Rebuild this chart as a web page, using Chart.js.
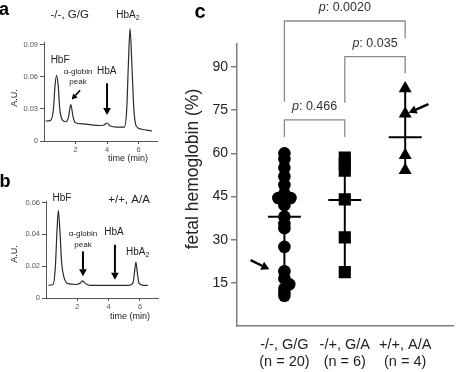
<!DOCTYPE html>
<html>
<head>
<meta charset="utf-8">
<script src="https://cdn.jsdelivr.net/npm/chart.js@4.4.1/dist/chart.umd.min.js"></script>
<style>
  html, body { margin: 0; padding: 0; background: #fff; }
  #fig { position: relative; width: 472px; height: 372px; overflow: hidden; }
  canvas { position: absolute; }
</style>
</head>
<body>
<div id="fig">
  <canvas id="panelA" width="165" height="170" style="left:0;top:0"></canvas>
  <canvas id="panelB" width="165" height="160" style="left:0;top:170px"></canvas>
  <canvas id="panelC" width="312" height="372" style="left:160px;top:0"></canvas>
</div>
<script>
const FONT = '"Liberation Sans", Arial, sans-serif';

// panel a: chromatogram, -/-, G/G
const traceATime = [0.1, 0.4, 0.6, 0.7, 0.8, 0.9, 1.0, 1.15, 1.4, 1.55, 1.7, 1.85, 2.0, 2.5, 3.0, 3.5, 3.8, 4.0, 4.2, 4.6, 5.1, 5.25, 5.35, 5.46, 5.58, 5.7, 5.85, 6.2, 6.84];
const traceAAu = [0.0187, 0.019, 0.030, 0.052, 0.0614, 0.052, 0.030, 0.020, 0.018, 0.022, 0.034, 0.022, 0.017, 0.016, 0.015, 0.0145, 0.015, 0.0168, 0.014, 0.013, 0.013, 0.030, 0.070, 0.105, 0.070, 0.030, 0.014, 0.011, 0.0093];
const auTicksA = [0, 0.03, 0.06, 0.09];

// panel b: chromatogram, +/+, A/A
const traceBTime = [0.15, 0.45, 0.6, 0.7, 0.785, 0.9, 1.0, 1.15, 1.4, 1.9, 2.2, 2.34, 2.5, 2.8, 3.5, 4.5, 5.3, 5.55, 5.65, 5.74, 5.83, 5.93, 6.2, 6.5];
const traceBAu = [0.0080, 0.0085, 0.020, 0.042, 0.0551, 0.040, 0.022, 0.013, 0.009, 0.0085, 0.0095, 0.0108, 0.0092, 0.0080, 0.0079, 0.0079, 0.0079, 0.0095, 0.016, 0.0226, 0.016, 0.0095, 0.0080, 0.0080];
const auTicksB = [0, 0.02, 0.04, 0.06];
const timeTicks = [2, 4, 6];

// panel c: fetal hemoglobin by genotype
const groupLabels = ['-/-, G/G', '-/+, G/A', '+/+, A/A'];
const groupCounts = ['(n = 20)', '(n = 6)', '(n = 4)'];
const hbfGG = [60, 58, 55, 52, 49, 46, 44.5, 44.5, 44.5, 42, 38, 35.5, 34, 27.5, 19, 16.5, 14.5, 13, 11.5, 10.5];
const spreadGG = [0, 0, 0, 0, 0, 0, -0.1, 0, 0.1, 0, 0, 0, 0, 0, 0, 0, 0.08, 0, 0, 0];
const hbfGA = [58.5, 56.3, 54, 44, 30.8, 18.7];
const hbfAA = [82.5, 73.8, 59.3, 54.1];
const hbfMeans = [38, 43.8, 65.6];
const hbfTicks = [15, 30, 45, 60, 75, 90];
const pFrom = [1, 2, 1];
const pTo = [2, 3, 3];
const pTop = [71.6, 93.6, 106];
const pLegs = [[65.7, 65.7], [77.6, 87.8], [77.9, 100]];
const pValues = ['0.466', '0.035', '0.0020'];

function drawRich(ctx, parts, x, y, size, color, rotate, bold) {
  ctx.save();
  ctx.translate(x, y);
  if (rotate) ctx.rotate(rotate);
  ctx.fillStyle = color;
  ctx.textBaseline = 'middle';
  ctx.textAlign = 'left';
  const fonts = parts.map(p => (p.italic ? 'italic ' : '') + (bold ? 'bold ' : '') + (p.sub ? size * 0.7 : size) + 'px ' + FONT);
  let total = 0;
  const widths = parts.map((p, i) => {
    ctx.font = fonts[i];
    const w = ctx.measureText(p.t).width;
    total += w;
    return w;
  });
  let cx = -total / 2;
  parts.forEach((p, i) => {
    ctx.font = fonts[i];
    ctx.fillText(p.t, cx, p.sub ? size * 0.3 : 0);
    cx += widths[i];
  });
  ctx.restore();
}

function drawArrow(ctx, x0, y0, x1, y1, w, head) {
  const ang = Math.atan2(y1 - y0, x1 - x0);
  const bx = x1 - Math.cos(ang) * head, by = y1 - Math.sin(ang) * head;
  ctx.strokeStyle = '#000';
  ctx.fillStyle = '#000';
  ctx.lineWidth = w;
  ctx.beginPath();
  ctx.moveTo(x0, y0);
  ctx.lineTo(bx, by);
  ctx.stroke();
  ctx.beginPath();
  ctx.moveTo(x1, y1);
  ctx.lineTo(bx + Math.sin(ang) * head * 0.55, by - Math.cos(ang) * head * 0.55);
  ctx.lineTo(bx - Math.sin(ang) * head * 0.55, by + Math.cos(ang) * head * 0.55);
  ctx.closePath();
  ctx.fill();
}

function notesPlugin(cfg) {
  return {
    id: 'notes',
    afterDatasetsDraw(chart) {
      const ctx = chart.ctx;
      const sx = chart.scales.x, sy = chart.scales.y;
      const at = p => [sx.getPixelForValue(p[0]), sy.getPixelForValue(p[1])];
      ctx.save();
      (cfg.brackets || []).forEach(b => {
        const x1 = sx.getPixelForValue(b.from), x2 = sx.getPixelForValue(b.to);
        const yt = sy.getPixelForValue(b.top);
        ctx.strokeStyle = '#8a8a8a';
        ctx.lineWidth = 1.3;
        ctx.beginPath();
        ctx.moveTo(x1, sy.getPixelForValue(b.legs[0]));
        ctx.lineTo(x1, yt);
        ctx.lineTo(x2, yt);
        ctx.lineTo(x2, sy.getPixelForValue(b.legs[1]));
        ctx.stroke();
        drawRich(ctx, [{t: 'p', italic: true}, {t: ': ' + b.p}], (x1 + x2) / 2, yt - 13.5, 12.5, '#333');
      });
      (cfg.arrows || []).forEach(a => {
        const [x0, y0] = at(a.from), [x1, y1] = at(a.to);
        drawArrow(ctx, x0, y0, x1, y1, a.width, a.head);
      });
      (cfg.labels || []).forEach(l => {
        const [x, y] = l.at ? at(l.at) : l.px;
        drawRich(ctx, l.parts || [{t: l.text}], x, y, l.size, l.color || '#222', l.rotate, l.bold);
      });
      ctx.restore();
    }
  };
}

function traceChart(id, time, au, o) {
  return new Chart(document.getElementById(id), {
    type: 'line',
    data: {
      datasets: [{
        data: time.map((t, i) => ({x: t, y: au[i]})),
        borderColor: '#2b2b2b',
        borderWidth: 1.2,
        pointRadius: 0,
        cubicInterpolationMode: 'monotone',
        clip: false
      }]
    },
    options: {
      responsive: false,
      animation: false,
      events: [],
      layout: {padding: o.padding},
      plugins: {legend: {display: false}, tooltip: {enabled: false}},
      scales: {
        x: {
          type: 'linear', min: 0, max: o.xMax,
          afterFit: s => { s.height = o.xHeight; },
          afterBuildTicks: s => { s.ticks = timeTicks.map(v => ({value: v})); },
          grid: {drawOnChartArea: false, tickLength: 3, color: '#555'},
          border: {color: '#555', width: 1},
          ticks: {font: {size: 7.5, family: FONT}, color: '#555', padding: 1, maxRotation: 0}
        },
        y: {
          type: 'linear', min: 0, max: o.yMax,
          afterFit: s => { s.width = o.yWidth; },
          afterBuildTicks: s => { s.ticks = o.yTicks.map(v => ({value: v})); },
          grid: {drawOnChartArea: false, tickLength: 4, color: '#555'},
          border: {color: '#555', width: 1},
          ticks: {
            font: {size: 7.5, family: FONT}, color: '#555', padding: 2,
            callback: v => v === 0 ? '0' : v.toFixed(2)
          }
        }
      }
    },
    plugins: [notesPlugin(o.notes)]
  });
}

traceChart('panelA', traceATime, traceAAu, {
  padding: {left: 0, right: 8, top: 42, bottom: 0},
  xMax: 7.17, yMax: 0.0925, xHeight: 29, yWidth: 44, yTicks: auTicksA,
  notes: {
    arrows: [
      {from: [2.29, 0.0474], to: [1.76, 0.0387], width: 1.6, head: 5.5},
      {from: [4.0, 0.0539], to: [4.0, 0.0243], width: 2, head: 7}
    ],
    labels: [
      {text: 'a', px: [4, 10], size: 18, bold: true, color: '#000'},
      {text: '-/-, G/G', at: [1.63, 0.1178], size: 11.5},
      {text: 'HbF', at: [1.02, 0.0757], size: 10},
      {text: 'α-globin', at: [2.16, 0.0645], size: 8},
      {text: 'peak', at: [2.16, 0.0551], size: 8},
      {text: 'HbA', at: [3.98, 0.0654], size: 10},
      {parts: [{t: 'HbA'}, {t: '2', sub: true}], at: [5.33, 0.1178], size: 10},
      {text: 'A.U.', px: [15, 98], size: 9, rotate: -Math.PI / 2},
      {text: 'time (min)', px: [128, 159], size: 9}
    ]
  }
});

traceChart('panelB', traceBTime, traceBAu, {
  padding: {left: 0, right: 7, top: 31, bottom: 0},
  xMax: 7.15, yMax: 0.061, xHeight: 32, yWidth: 46, yTicks: auTicksB,
  notes: {
    arrows: [
      {from: [2.36, 0.0293], to: [2.36, 0.0136], width: 2, head: 7},
      {from: [4.4, 0.0335], to: [4.4, 0.0115], width: 2, head: 7}
    ],
    labels: [
      {text: 'b', px: [5, 12], size: 18, bold: true, color: '#000'},
      {text: '+/+, A/A', at: [5.3, 0.0618], size: 11.5},
      {text: 'HbF', at: [1.02, 0.0625], size: 10},
      {text: 'α-globin', at: [2.36, 0.0404], size: 8},
      {text: 'peak', at: [2.36, 0.0335], size: 8},
      {text: 'HbA', at: [4.34, 0.0413], size: 10},
      {parts: [{t: 'HbA'}, {t: '2', sub: true}], at: [5.85, 0.0287], size: 10},
      {text: 'A.U.', px: [15, 84], size: 9, rotate: -Math.PI / 2},
      {text: 'time (min)', px: [130, 147], size: 9}
    ]
  }
});

// panel c
const rangeLine = (x, vals) => [{x: x, y: Math.max(...vals)}, {x: x, y: Math.min(...vals)}];
const brackets = pFrom.map((f, i) => ({from: f, to: pTo[i], top: pTop[i], legs: pLegs[i], p: pValues[i]}));

new Chart(document.getElementById('panelC'), {
  type: 'scatter',
  data: {
    datasets: [
      {data: rangeLine(1, hbfGG), showLine: true, borderColor: '#000', borderWidth: 2, pointRadius: 0},
      {data: rangeLine(2, hbfGA), showLine: true, borderColor: '#000', borderWidth: 2, pointRadius: 0},
      {data: rangeLine(3, hbfAA), showLine: true, borderColor: '#000', borderWidth: 2, pointRadius: 0},
      {data: hbfGG.map((v, i) => ({x: 1 + spreadGG[i], y: v})), pointStyle: 'circle', pointRadius: 6.3, backgroundColor: '#000', borderWidth: 0},
      {data: hbfGA.map(v => ({x: 2, y: v})), pointStyle: 'rect', pointRadius: 8.6, backgroundColor: '#000', borderWidth: 0},
      {data: hbfAA.map(v => ({x: 3, y: v})), pointStyle: 'triangle', pointRadius: 7.5, backgroundColor: '#000', borderWidth: 0},
      {data: hbfMeans.map((m, i) => ({x: i + 1, y: m})), pointStyle: 'line', pointRadius: 16.5, borderColor: '#000', borderWidth: 2}
    ]
  },
  options: {
    responsive: false,
    animation: false,
    events: [],
    layout: {padding: {left: 0, right: 2, top: 44, bottom: 0}},
    plugins: {legend: {display: false}, tooltip: {enabled: false}},
    scales: {
      x: {
        type: 'linear', min: 0.215, max: 3.8,
        afterFit: s => { s.height = 46; },
        afterBuildTicks: s => { s.ticks = groupLabels.map((g, i) => ({value: i + 1})); },
        grid: {display: false, drawTicks: false},
        border: {color: '#7f7f7f', width: 1.5},
        ticks: {
          font: {size: 14.5, family: FONT, lineHeight: 1.18}, color: '#222', padding: 10,
          autoSkip: false, maxRotation: 0,
          callback: (v, i) => [groupLabels[i], groupCounts[i]]
        }
      },
      y: {
        type: 'linear', min: 0, max: 98,
        afterFit: s => { s.width = 77; },
        afterBuildTicks: s => { s.ticks = hbfTicks.map(v => ({value: v})); },
        grid: {drawOnChartArea: false, tickLength: 6, color: '#7f7f7f', lineWidth: 1.5},
        border: {color: '#7f7f7f', width: 1.5},
        ticks: {font: {size: 14, family: FONT}, color: '#222', padding: 3}
      }
    }
  },
  plugins: [notesPlugin({
    brackets: brackets,
    arrows: [
      {from: [0.44, 22.9], to: [0.75, 19.7], width: 2.4, head: 8},
      {from: [3.385, 77.1], to: [3.057, 74.1], width: 2.4, head: 8}
    ],
    labels: [
      {text: 'c', px: [40, 12], size: 20, bold: true, color: '#000'},
      {text: 'fetal hemoglobin (%)', px: [33, 169], size: 17.5, rotate: -Math.PI / 2}
    ]
  })]
});
</script>
</body>
</html>
